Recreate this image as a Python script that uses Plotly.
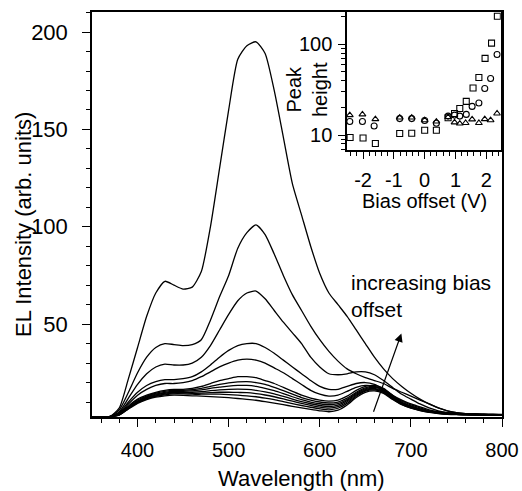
import plotly.graph_objects as go

# ---------------- data ----------------
wavelength = [350, 360, 370, 380, 390, 400, 410, 420, 430, 440, 450, 460, 470, 480, 490,
              500, 510, 520, 530, 540, 550, 560, 570, 580, 590, 600, 610, 620, 630, 640,
              650, 660, 670, 680, 690, 700, 710, 720, 730, 740, 750, 760, 770, 780, 790, 800]

curve_1 = [2.5, 2.5, 2.6, 7, 22, 38, 54, 66, 72, 70, 68, 69, 77, 100, 130,
           160, 186, 193, 195, 189, 170, 146, 122, 106, 90, 76, 66, 60, 54, 47,
           40, 33, 27, 22, 18, 14.5, 11.5, 9, 7, 5.5, 4.5, 4, 4, 3.8, 3.8, 3.6]
curve_2 = [2.5, 2.5, 2.6, 6, 15, 25, 33, 38, 40, 39.5, 39, 39.5, 42, 52, 64,
           75, 89, 97, 101, 96, 86, 75, 65, 57, 49, 42, 36, 31, 27, 24.5,
           22.5, 21, 19.5, 17, 15, 13, 11, 9, 7, 5.5, 4.5, 4, 3.8, 3.7, 3.6, 3.5]
curve_3 = [2.5, 2.5, 2.6, 5, 12, 19, 24.5, 28, 29.5, 29, 29, 30, 33, 39, 47,
           55, 62, 66, 67, 63, 57, 51, 45.5, 40, 33, 28, 24.5, 24, 24.5, 25.5,
           25.5, 24, 21, 17.5, 14, 11.5, 9, 7, 5.5, 4.5, 4, 3.8, 3.7, 3.6, 3.5, 3.5]
curve_4 = [2.4, 2.4, 2.5, 4.5, 10, 15, 18.5, 20.5, 21.5, 21.5, 22, 23, 25.5, 29, 33,
           36.5, 39, 40, 40, 38, 35, 31.5, 28, 24.5, 21, 18, 16.5, 16.5, 18, 19.5,
           20, 19, 16.5, 13.5, 11, 9, 7.5, 6, 5, 4.5, 4, 3.8, 3.7, 3.6, 3.5, 3.5]
curve_5 = [2.4, 2.4, 2.5, 4, 9, 13.5, 16.5, 18.5, 19.5, 19.5, 20, 21, 23, 25.5, 28,
           30, 31.5, 32, 31.5, 30, 27.5, 25, 22, 19, 16, 14, 13, 13.5, 15.5, 17.5,
           18.5, 18, 16, 13, 10.5, 8.5, 7, 5.5, 4.8, 4.3, 4, 3.8, 3.6, 3.5, 3.5, 3.4]
curve_6 = [2.4, 2.4, 2.5, 4, 8, 11.5, 13.5, 15, 16, 16.5, 16.5, 17, 18, 19.5, 21,
           22, 23, 23, 22.5, 21, 19.5, 17.5, 15.5, 13.5, 12, 11, 10.5, 11, 13, 16,
           18, 18.5, 17, 13.5, 10, 8, 6.5, 5.5, 4.8, 4.2, 3.9, 3.7, 3.6, 3.5, 3.5, 3.4]
curve_7 = [2.4, 2.4, 2.5, 3.8, 7.5, 11, 13, 14.5, 15.5, 16, 16, 16.3, 17, 18, 19,
           19.8, 20.3, 20.5, 20, 19, 17.5, 15.8, 14, 12.3, 11, 10, 9.5, 10, 12, 15,
           17.3, 18, 16.5, 13, 9.7, 7.8, 6.3, 5.3, 4.6, 4.1, 3.8, 3.6, 3.5, 3.5, 3.4, 3.4]
curve_8 = [2.4, 2.4, 2.5, 3.7, 7.2, 10.5, 12.6, 14, 15, 15.5, 15.5, 15.7, 16.2, 17, 17.6,
           18.2, 18.5, 18.5, 18, 17, 15.8, 14.3, 12.7, 11.2, 10, 9.1, 8.6, 9.2, 11.3, 14.5,
           16.8, 17.5, 16, 12.5, 9.4, 7.5, 6.1, 5.1, 4.5, 4, 3.7, 3.6, 3.5, 3.4, 3.4, 3.3]
curve_9 = [2.4, 2.4, 2.5, 3.6, 7, 10.2, 12.2, 13.6, 14.5, 15, 15, 15, 15.3, 15.8, 16.2,
           16.5, 16.6, 16.5, 16, 15.2, 14.2, 12.9, 11.5, 10.2, 9.1, 8.2, 7.7, 8.4, 10.7, 14,
           16.4, 17, 15.6, 12.2, 9.2, 7.3, 5.9, 5, 4.4, 3.9, 3.7, 3.5, 3.4, 3.4, 3.3, 3.3]
curve_10 = [2.4, 2.4, 2.5, 3.5, 6.8, 9.9, 11.9, 13.2, 14.1, 14.6, 14.6, 14.5, 14.6, 14.8, 15,
            15, 14.9, 14.8, 14.3, 13.6, 12.7, 11.6, 10.4, 9.3, 8.3, 7.4, 6.9, 7.6, 10, 13.5,
            16, 16.6, 15.2, 11.9, 9, 7.1, 5.8, 4.9, 4.3, 3.9, 3.6, 3.5, 3.4, 3.3, 3.3, 3.3]
curve_11 = [2.4, 2.4, 2.5, 3.4, 6.6, 9.6, 11.6, 12.9, 13.7, 14.2, 14.2, 14, 14, 14, 14,
            13.8, 13.5, 13.2, 12.7, 12, 11.2, 10.2, 9.2, 8.2, 7.3, 6.5, 6, 6.8, 9.3, 13,
            15.6, 16.2, 14.8, 11.6, 8.8, 7, 5.7, 4.8, 4.2, 3.8, 3.6, 3.4, 3.4, 3.3, 3.3, 3.2]
curve_12 = [2.4, 2.4, 2.5, 3.3, 6.4, 9.3, 11.2, 12.5, 13.2, 13.5, 13.4, 13.2, 13, 12.8, 12.5,
            12.2, 11.8, 11.4, 10.9, 10.2, 9.4, 8.6, 7.8, 7, 6.2, 5.5, 5, 5.8, 8.5, 12.3,
            15, 15.7, 14.4, 11.3, 8.6, 6.8, 5.6, 4.7, 4.1, 3.7, 3.5, 3.4, 3.3, 3.3, 3.2, 3.2]

spectra = [curve_1, curve_2, curve_3, curve_4, curve_5, curve_6,
           curve_7, curve_8, curve_9, curve_10, curve_11, curve_12]

# inset: peak height vs bias offset
squares_bias = [-2.42, -2.0, -1.6, -0.81, -0.42, 0.0, 0.38, 0.76, 0.97, 1.14, 1.35, 1.57, 1.76, 1.96, 2.17, 2.36]
squares_peak = [9.4, 9.3, 8.1, 10.4, 10.5, 11.3, 11.3, 15.5, 17.3, 19.6, 23.5, 33, 43, 70, 103, 203]
circles_bias = [-2.43, -2.02, -1.64, -0.81, -0.42, 0.0, 0.38, 0.76, 0.97, 1.14, 1.35, 1.54, 1.76, 1.95, 2.14, 2.35]
circles_peak = [14.1, 14.1, 12.6, 15.2, 15.2, 14.5, 13.5, 16.2, 16.6, 16.2, 16.9, 20.7, 22.6, 32.6, 42, 77]
triangles_bias = [-2.43, -2.02, -1.6, -0.81, -0.42, 0.0, 0.38, 0.76, 0.97, 1.14, 1.33, 1.54, 1.76, 1.95, 2.14, 2.35]
triangles_peak = [16.6, 16.9, 15.0, 15.6, 15.6, 14.6, 14.1, 15.8, 13.8, 13.4, 13.6, 14.9, 13.6, 15.0, 14.6, 17.3]

x_ticks = [400, 500, 600, 700, 800]
y_ticks = [50, 100, 150, 200]
inset_x_ticks = [-2, -1, 0, 1, 2]
inset_x_labels = ["-2", "-1", "0", "1", "2"]
inset_y_ticks = [10, 100]
inset_y_minor = [7, 8, 9, 20, 30, 40, 50, 60, 70, 80, 90, 200]

# ---------------- figure ----------------
FONT = "Liberation Sans, Arial, Helvetica, sans-serif"
fig = go.Figure()

for s in spectra:
    fig.add_trace(go.Scatter(x=wavelength, y=s, mode="lines",
                             line=dict(color="black", width=1.3, shape="spline", smoothing=0.6),
                             showlegend=False, hoverinfo="skip", xaxis="x", yaxis="y"))

mk = dict(color="black", size=6, line=dict(color="black", width=1.1))
fig.add_trace(go.Scatter(x=squares_bias, y=squares_peak, mode="markers", marker=dict(symbol="square-open", **mk),
                         xaxis="x2", yaxis="y2", showlegend=False))
fig.add_trace(go.Scatter(x=circles_bias, y=circles_peak, mode="markers", marker=dict(symbol="circle-open", **mk),
                         xaxis="x2", yaxis="y2", showlegend=False))
fig.add_trace(go.Scatter(x=triangles_bias, y=triangles_peak, mode="markers", marker=dict(symbol="triangle-up-open", **mk),
                         xaxis="x2", yaxis="y2", showlegend=False))

axis_common = dict(showline=True, linecolor="black", linewidth=1.5, mirror=True, showgrid=False, zeroline=False,
                   ticks="outside", tickcolor="black", tickwidth=1.2, automargin=False)
minor_common = dict(ticks="outside", ticklen=4, tickcolor="black", tickwidth=1.2, showgrid=False)
tick20 = dict(family=FONT, size=20, color="black")
tick22 = dict(family=FONT, size=22, color="black")

fig.update_layout(
    width=522, height=491,
    margin=dict(l=92, r=20, t=12, b=74, pad=0),
    paper_bgcolor="white", plot_bgcolor="white",
    font=dict(family=FONT, color="black"),
    xaxis=dict(range=[350, 800], tickvals=x_ticks, ticklen=8, tickfont=tick20,
               minor=dict(dtick=20, tick0=0, **minor_common),
               ticklabelstandoff=6, **axis_common),
    yaxis=dict(range=[2.3, 210.3], tickvals=y_ticks, ticklen=8, tickfont=tick22,
               minor=dict(dtick=10, tick0=0, **minor_common),
               ticklabelstandoff=10, **axis_common),
    xaxis2=dict(domain=[0.622, 0.997], anchor="y2", range=[-2.52, 2.47], tickvals=inset_x_ticks,
                ticktext=inset_x_labels, ticklen=7, tickfont=tick20,
                minor=dict(dtick=0.2, tick0=0, **minor_common),
                ticklabelstandoff=4, **axis_common),
    yaxis2=dict(domain=[0.659, 1.0], anchor="x2", type="log", range=[0.835, 2.355], tickvals=inset_y_ticks,
                ticklen=7, tickfont=tick20, minor=dict(tickvals=inset_y_minor, **minor_common),
                ticklabelstandoff=2, **axis_common),
)

title_font = dict(family=FONT, size=22, color="black")
fig.add_annotation(text="Wavelength (nm)", xref="paper", yref="paper", x=0.511, y=0, yshift=-61,
                   showarrow=False, font=title_font, xanchor="center", yanchor="middle")
fig.add_annotation(text="EL Intensity (arb. units)", xref="paper", yref="paper", x=0, xshift=-69, y=0.474,
                   textangle=-90, showarrow=False, font=title_font, xanchor="center", yanchor="middle")
fig.add_annotation(text="Bias offset (V)", xref="paper", yref="paper", x=(424 - 92) / 410, y=(417 - 201) / 405,
                   showarrow=False, font=dict(family=FONT, size=20, color="black"), xanchor="center", yanchor="middle")
fig.add_annotation(text="Peak<br>height", xref="paper", yref="paper", x=(307 - 92) / 410, y=(417 - 90) / 405,
                   textangle=-90, showarrow=False, font=dict(family=FONT, size=20, color="black"),
                   xanchor="center", yanchor="middle")
fig.add_annotation(text="increasing bias<br>offset", xref="paper", yref="paper", x=(349 - 92) / 410,
                   y=(417 - 296) / 405, align="left", showarrow=False,
                   font=dict(family=FONT, size=21, color="black"), xanchor="left", yanchor="middle")
fig.add_annotation(x=689.6, y=45.2, ax=658.4, ay=4.2, xref="x", yref="y", axref="x", ayref="y",
                   text="", showarrow=True, arrowhead=2, arrowsize=1.4, arrowwidth=1.2, arrowcolor="black")

# remove the default 8 px page margin so the figure sits at the window origin
fig.write_html("out.html", config={"displayModeBar": False},
               post_script="document.body.style.margin='0px';document.body.style.overflow='hidden';")
